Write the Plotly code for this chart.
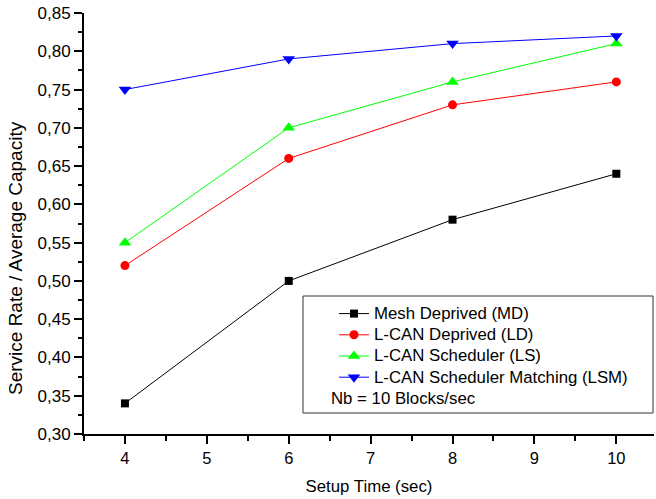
import plotly.graph_objects as go

setup_time = [4, 6, 8, 10]
md = [0.34, 0.50, 0.58, 0.64]
ld = [0.52, 0.66, 0.73, 0.76]
ls = [0.55, 0.70, 0.76, 0.81]
lsm = [0.75, 0.79, 0.81, 0.82]

series = [
    ("Mesh Deprived (MD)", md, "#000000", "square", 8),
    ("L-CAN Deprived (LD)", ld, "#ff0000", "circle", 9),
    ("L-CAN Scheduler (LS)", ls, "#00ff00", "triangle-up", 11),
    ("L-CAN Scheduler Matching (LSM)", lsm, "#0000ff", "triangle-down", 11),
]

FONT = "Liberation Sans, Arial, sans-serif"

fig = go.Figure()
for name, vals, color, sym, sz in series:
    fig.add_trace(go.Scatter(
        x=setup_time, y=vals, name='<span style="font-size:16.8px">' + name + '</span>',
        mode="lines+markers",
        line=dict(color=color, width=1),
        marker=dict(symbol=sym, size=sz, color=color, line=dict(width=0)),
    ))

L, R, T, B = 84, 2, 13, 65
W, H = 656, 499
pw, ph = W - L - R, H - T - B

def px(xp):
    return (xp - L) / pw

def py(yp):
    return (H - B - yp) / ph

fig.update_layout(
    width=W, height=H,
    margin=dict(l=L, r=R, t=T, b=B),
    paper_bgcolor="white", plot_bgcolor="white",
    separators=",.",
    font=dict(family=FONT, size=16, color="#000000"),
    showlegend=True,
    legend=dict(
        x=px(334), y=py(298), xanchor="left", yanchor="top",
        bgcolor="rgba(0,0,0,0)", borderwidth=0,
        font=dict(family=FONT, size=14, color="#000000"),
        tracegroupgap=0,
    ),
    xaxis=dict(
        range=[3.5, 10.46], tickmode="array", tickvals=[4, 5, 6, 7, 8, 9, 10],
        ticks="outside", ticklen=8, tickwidth=2, tickcolor="#000",
        showline=True, linecolor="#000", linewidth=2,
        showgrid=False, zeroline=False,
        tickfont=dict(family=FONT, size=16.5),
        minor=dict(ticks="outside", ticklen=5, tickwidth=2, tickcolor="#000", dtick=0.5, tick0=3.5, showgrid=False),
        title=dict(text="Setup Time (sec)", font=dict(family=FONT, size=16.8), standoff=14),
    ),
    yaxis=dict(
        range=[0.30, 0.85], tick0=0.30, dtick=0.05, tickformat=".2f",
        ticks="outside", ticklen=8, tickwidth=2, tickcolor="#000",
        showline=True, linecolor="#000", linewidth=2,
        showgrid=False, zeroline=False,
        tickfont=dict(family=FONT, size=17),
        minor=dict(ticks="outside", ticklen=4, tickwidth=2, tickcolor="#000", dtick=0.025, showgrid=False),
    ),
    shapes=[dict(
        type="rect", xref="paper", yref="paper",
        x0=px(303), x1=px(653), y0=py(413), y1=py(296),
        line=dict(color="#333333", width=1), fillcolor="rgba(0,0,0,0)",
    )],
    annotations=[
        dict(text="Nb = 10 Blocks/sec", xref="paper", yref="paper",
             x=px(329), y=py(398), xanchor="left", yanchor="middle",
             showarrow=False, font=dict(family=FONT, size=16.8)),
        dict(text="Service Rate / Average Capacity", xref="paper", yref="paper",
             x=px(15), y=py(258), xanchor="center", yanchor="middle", textangle=-90,
             showarrow=False, font=dict(family=FONT, size=19)),
    ],
)

fig.write_html("out.html")
